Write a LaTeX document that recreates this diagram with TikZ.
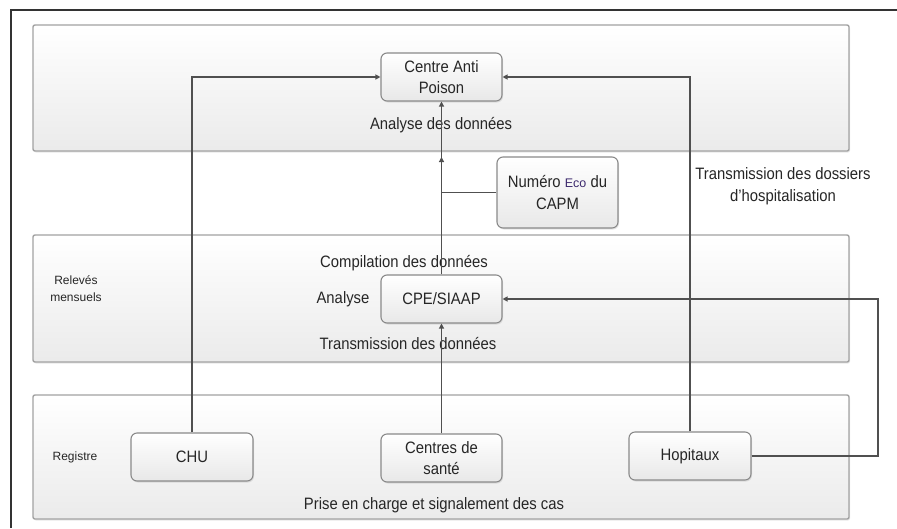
\documentclass[tikz,border=0pt]{standalone}
\usepackage{fontspec}
\setmainfont{Liberation Sans}[FakeStretch=0.9]
\newfontfamily\plainfont{Liberation Sans}
\usetikzlibrary{shadows,arrows.meta}
\definecolor{lineC}{HTML}{505050}
\definecolor{bandC}{HTML}{A2A2A2}
\definecolor{boxC}{HTML}{8A8A8A}
\definecolor{txtC}{HTML}{262626}
\definecolor{ecoC}{HTML}{3D2A6E}
\tikzset{
  band/.style={draw=bandC, line width=1.4pt, rounded corners=2pt, top color=white, bottom color=black!8,
     drop shadow={opacity=0.18, shadow xshift=1pt, shadow yshift=-1.5pt}},
  bx/.style={draw=boxC, line width=1.1pt, rounded corners=6pt, top color=white, bottom color=black!9,
     minimum width=121pt, minimum height=48pt, inner sep=0pt, align=center,
     font=\fontsize{16.5}{21.5}\selectfont, text=txtC,
     drop shadow={opacity=0.2, shadow xshift=1pt, shadow yshift=-1.5pt}},
  lbl/.style={inner sep=0pt, font=\fontsize{16.5}{22}\selectfont, text=txtC, align=center},
  small/.style={inner sep=0pt, font=\plainfont\fontsize{12}{17}\selectfont, text=txtC, align=center},
  conn/.style={draw=lineC, line width=1.2pt},
  arr/.style={conn, -{Triangle[length=5pt,width=5pt]}}
}
\begin{document}
\begin{tikzpicture}[x=1pt,y=-1pt]
\useasboundingbox (0,0) rectangle (897,528);
\fill[white] (0,0) rectangle (897,528);
% outer frame
\coordinate (fbl) at (11,528);
\coordinate (ftl) at (11,10);
\coordinate (ftr) at (897,10);
\draw[black!80, line width=1.3pt] (fbl) -- (ftl) -- (ftr);
% bands
\path[band] (33,25) rectangle (849,151);
\path[band] (33,235) rectangle (849,362);
\path[band] (33,395) rectangle (849,519);
% boxes
\node[bx] (anti) at (441.5,77) {Centre Anti\\Poison};
\node[bx, minimum height=71pt] (numero) at (557.5,192.5) {Numéro {\plainfont\fontsize{12.5}{21}\selectfont\color{ecoC}Eco} du\\CAPM};
\node[bx] (cpe) at (441.5,299) {CPE/SIAAP};
\node[bx, minimum width=122pt] (chu) at (192,457) {CHU};
\node[bx] (centres) at (441.5,458) {Centres de\\santé};
\node[bx, minimum width=122pt] (hop) at (690,456) {Hopitaux};
% labels
\node[lbl] (l1) at (441,125) {Analyse des données};
\node[lbl] (l2) at (783,186) {Transmission des dossiers\\d'hospitalisation};
\node[small] (l3) at (76,289) {Relevés\\mensuels};
\node[lbl] (l4) at (404,263) {Compilation des données};
\node[lbl] (l5) at (343,299) {Analyse};
\node[lbl] (l6) at (408,343) {Transmission des données};
\node[small] (l7) at (75,457) {Registre};
\node[lbl] (l8) at (434,505) {Prise en charge et signalement des cas};
% connectors
\draw[arr] (chu.north) |- (anti.west);
\draw[arr] (hop.north) |- (anti.east);
\draw[arr] (centres.north) -- (cpe.south);
\draw[arr] (cpe.north) -- (anti.south);
\coordinate (mid) at (441.5,157);
\draw[arr] (cpe.north) -- (mid);
\coordinate (junc) at (cpe.north |- numero.west);
\draw[conn] (numero.west) -- (junc);
\coordinate (hr) at (878,456);
\draw[arr] (hop.east) -- (hr) |- (cpe.east);
\end{tikzpicture}
\end{document}
